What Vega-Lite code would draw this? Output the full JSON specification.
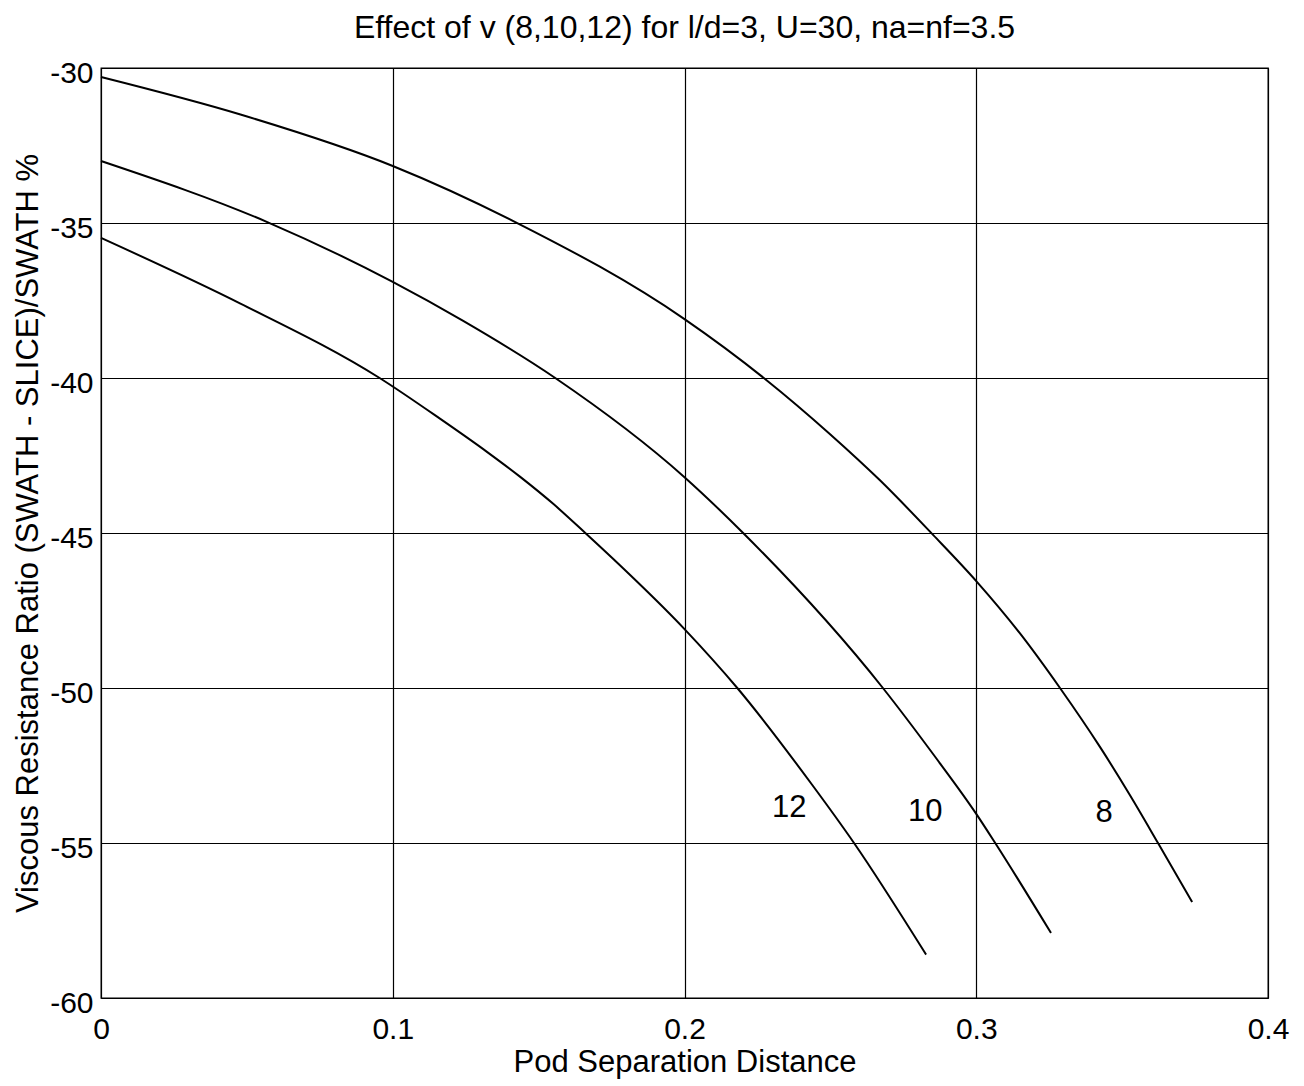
{
  "$schema": "https://vega.github.io/schema/vega-lite/v6.json",
  "autosize": "none",
  "width": 1167,
  "height": 930,
  "padding": {"left": 101, "top": 68, "right": 36, "bottom": 88},
  "background": "white",
  "title": {
    "text": "Effect of v (8,10,12) for l/d=3, U=30, na=nf=3.5",
    "font": "Liberation Sans",
    "fontSize": 32,
    "fontWeight": "normal",
    "color": "black",
    "offset": 13
  },
  "config": {
    "view": {"stroke": "black", "strokeWidth": 1.3},
    "axis": {
      "grid": true,
      "gridColor": "black",
      "gridOpacity": 1,
      "gridWidth": 1.2,
      "domain": false,
      "ticks": false,
      "labelFlush": false,
      "labelFont": "Liberation Sans",
      "labelFontSize": 30,
      "labelColor": "black",
      "titleFont": "Liberation Sans",
      "titleFontSize": 31,
      "titleFontWeight": "normal",
      "titleColor": "black"
    }
  },
  "datasets": {
    "curves": [
      {"v": "8", "x": 0, "y": -30.29},
      {"v": "8", "x": 0.0478, "y": -31.5},
      {"v": "8", "x": 0.1, "y": -33.16},
      {"v": "8", "x": 0.142, "y": -34.97},
      {"v": "8", "x": 0.2, "y": -38.1},
      {"v": "8", "x": 0.2276, "y": -40.03},
      {"v": "8", "x": 0.25, "y": -41.82},
      {"v": "8", "x": 0.267, "y": -43.3},
      {"v": "8", "x": 0.2852, "y": -45.06},
      {"v": "8", "x": 0.3, "y": -46.55},
      {"v": "8", "x": 0.315, "y": -48.24},
      {"v": "8", "x": 0.3287, "y": -50.0},
      {"v": "8", "x": 0.3424, "y": -51.9},
      {"v": "8", "x": 0.3527, "y": -53.46},
      {"v": "8", "x": 0.3623, "y": -55.0},
      {"v": "8", "x": 0.374, "y": -56.9},
      {"v": "10", "x": 0, "y": -33.0},
      {"v": "10", "x": 0.057, "y": -34.97},
      {"v": "10", "x": 0.1, "y": -36.9},
      {"v": "10", "x": 0.124, "y": -38.15},
      {"v": "10", "x": 0.1557, "y": -40.0},
      {"v": "10", "x": 0.2, "y": -43.2},
      {"v": "10", "x": 0.2201, "y": -45.0},
      {"v": "10", "x": 0.268, "y": -50.0},
      {"v": "10", "x": 0.2852, "y": -52.13},
      {"v": "10", "x": 0.3, "y": -54.06},
      {"v": "10", "x": 0.3065, "y": -55.0},
      {"v": "10", "x": 0.3256, "y": -57.9},
      {"v": "12", "x": 0, "y": -35.48},
      {"v": "12", "x": 0.0478, "y": -37.6},
      {"v": "12", "x": 0.0955, "y": -40.0},
      {"v": "12", "x": 0.1163, "y": -41.32},
      {"v": "12", "x": 0.1324, "y": -42.39},
      {"v": "12", "x": 0.1437, "y": -43.19},
      {"v": "12", "x": 0.155, "y": -44.06},
      {"v": "12", "x": 0.166, "y": -45.0},
      {"v": "12", "x": 0.1756, "y": -45.84},
      {"v": "12", "x": 0.2, "y": -48.1},
      {"v": "12", "x": 0.2181, "y": -50.0},
      {"v": "12", "x": 0.2438, "y": -53.13},
      {"v": "12", "x": 0.2581, "y": -55.0},
      {"v": "12", "x": 0.2828, "y": -58.6}
    ],
    "labels": [
      {"t": "12", "x": 0.2359, "y": -53.87},
      {"t": "10", "x": 0.2825, "y": -54.0},
      {"t": "8", "x": 0.3438, "y": -54.03}
    ]
  },
  "layer": [
    {
      "data": {"name": "curves"},
      "mark": {"type": "line", "color": "black", "strokeWidth": 2, "interpolate": "monotone"},
      "encoding": {
        "x": {
          "field": "x", "type": "quantitative",
          "scale": {"domain": [0, 0.4], "nice": false, "zero": false},
          "axis": {"values": [0, 0.1, 0.2, 0.3, 0.4], "labelExpr": "toString(datum.value)", "title": "Pod Separation Distance", "labelPadding": 16, "titlePadding": 3}
        },
        "y": {
          "field": "y", "type": "quantitative",
          "scale": {"domain": [-60, -30], "nice": false, "zero": false},
          "axis": {"values": [-60, -55, -50, -45, -40, -35, -30], "labelExpr": "toString(datum.value)", "title": "Viscous Resistance Ratio (SWATH - SLICE)/SWATH %", "labelPadding": 8, "labelOffset": 5, "titlePadding": 5}
        },
        "detail": {"field": "v", "type": "nominal"}
      }
    },
    {
      "data": {"name": "labels"},
      "mark": {"type": "text", "font": "Liberation Sans", "fontSize": 31, "color": "black", "align": "center", "baseline": "middle"},
      "encoding": {
        "x": {"field": "x", "type": "quantitative"},
        "y": {"field": "y", "type": "quantitative"},
        "text": {"field": "t", "type": "nominal"}
      }
    }
  ]
}
